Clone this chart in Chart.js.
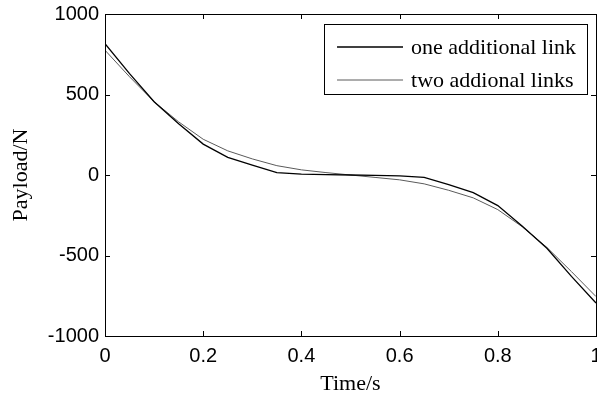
<!DOCTYPE html>
<html>
<head>
<meta charset="utf-8">
<script src="https://cdn.jsdelivr.net/npm/chart.js@4.4.1/dist/chart.umd.min.js"></script>
<style>
    html, body { margin: 0; padding: 0; background: #fff; }
    #frame { width: 597px; height: 399px; overflow: hidden; }
    #holder { width: 620px; height: 399px; }
</style>
</head>
<body>
<div id="frame"><div id="holder"><canvas id="payloadChart"></canvas></div></div>
<script>
// time samples (s)
const timeValues = [0, 0.05, 0.1, 0.15, 0.2, 0.25, 0.3, 0.35, 0.4, 0.45, 0.5,
    0.55, 0.6, 0.65, 0.7, 0.75, 0.8, 0.85, 0.9, 0.95, 1.0];
// payload (N)
const oneLinkValues = [815, 630, 455, 318, 192, 110, 62, 15, 5, 2, 0,
    -2, -5, -15, -60, -110, -190, -318, -455, -630, -795];
const twoLinksValues = [775, 610, 455, 330, 222, 150, 100, 58, 32, 15, 0,
    -15, -30, -55, -95, -142, -215, -322, -450, -600, -755];
const seriesLabels = ['one additional link', 'two addional links'];
const yTicks = [-1000, -500, 0, 500, 1000];
const xTicks = [0, 0.2, 0.4, 0.6, 0.8, 1];

window.addEventListener('load', initialize);

function toPoints(xs, ys) {
    return xs.map((x, i) => ({ x: x, y: ys[i] }));
}

// box around the plot, inward ticks on all four sides, and the legend
const matlabFrame = {
    id: 'matlabFrame',
    afterDatasetsDraw(chart) {
        const ctx = chart.ctx;
        const area = chart.chartArea;
        const xs = chart.scales.x;
        const ys = chart.scales.y;
        const len = 5;

        ctx.save();
        ctx.strokeStyle = '#000';
        ctx.lineWidth = 1;
        ctx.strokeRect(area.left + 0.5, area.top + 0.5, area.right - area.left, area.bottom - area.top);

        ctx.beginPath();
        for (const v of xTicks) {
            const px = Math.round(xs.getPixelForValue(v)) + 0.5;
            ctx.moveTo(px, area.bottom);
            ctx.lineTo(px, area.bottom - len);
            ctx.moveTo(px, area.top);
            ctx.lineTo(px, area.top + len);
        }
        for (const v of yTicks) {
            const py = Math.round(ys.getPixelForValue(v)) + 0.5;
            ctx.moveTo(area.left, py);
            ctx.lineTo(area.left + len, py);
            ctx.moveTo(area.right, py);
            ctx.lineTo(area.right - len, py);
        }
        ctx.stroke();

        // legend
        ctx.font = '22px "Liberation Serif", "Times New Roman", serif';
        let textWidth = 0;
        for (const label of seriesLabels) {
            textWidth = Math.max(textWidth, ctx.measureText(label).width);
        }
        const boxW = 13 + 66 + 8 + textWidth + 11;
        const boxH = 70;
        const boxRight = area.right - 9;
        const boxLeft = boxRight - boxW;
        const boxTop = area.top + 10;
        ctx.fillStyle = '#fff';
        ctx.fillRect(boxLeft, boxTop, boxW, boxH);
        ctx.strokeStyle = '#000';
        ctx.lineWidth = 1;
        ctx.strokeRect(Math.round(boxLeft) + 0.5, boxTop + 0.5, Math.round(boxW), boxH);

        chart.data.datasets.forEach((ds, i) => {
            const cy = boxTop + 23 + i * 33;
            ctx.strokeStyle = ds.borderColor;
            ctx.lineWidth = ds.borderWidth;
            ctx.beginPath();
            ctx.moveTo(boxLeft + 13, cy);
            ctx.lineTo(boxLeft + 79, cy);
            ctx.stroke();
            ctx.fillStyle = '#000';
            ctx.textBaseline = 'middle';
            ctx.textAlign = 'left';
            ctx.fillText(ds.label, boxLeft + 87, cy + 1);
        });
        ctx.restore();
    }
};

function initialize() {
    const ctx = document.getElementById('payloadChart').getContext('2d');
    const tickFont = { family: '"Liberation Sans", Arial, sans-serif', size: 20 };
    const yTickFont = { family: '"Liberation Sans", Arial, sans-serif', size: 20, lineHeight: 0.6 };
    const titleFont = { family: '"Liberation Serif", "Times New Roman", serif', size: 22 };

    new Chart(ctx, {
        type: 'line',
        data: {
            datasets: [{
                label: seriesLabels[0],
                data: toPoints(timeValues, oneLinkValues),
                borderColor: '#000000',
                borderWidth: 1.3,
                pointRadius: 0,
                tension: 0
            }, {
                label: seriesLabels[1],
                data: toPoints(timeValues, twoLinksValues),
                borderColor: '#5a5a5a',
                borderWidth: 1,
                pointRadius: 0,
                tension: 0
            }]
        },
        options: {
            responsive: true,
            maintainAspectRatio: false,
            animation: false,
            layout: { padding: { top: 14, right: 24, bottom: 0, left: 0 } },
            plugins: {
                legend: { display: false },
                tooltip: { enabled: false }
            },
            scales: {
                x: {
                    type: 'linear',
                    min: 0,
                    max: 1,
                    afterBuildTicks: scale => { scale.ticks = xTicks.map(v => ({ value: v })); },
                    afterFit: scale => { scale.height = 63; },
                    grid: { drawOnChartArea: false, drawTicks: false },
                    border: { display: false },
                    ticks: { color: '#000', font: tickFont, padding: 8, maxRotation: 0,
                        callback: value => String(value) },
                    title: { display: true, text: 'Time/s', color: '#000', font: titleFont, padding: { top: 0, bottom: 2 } }
                },
                y: {
                    min: -1000,
                    max: 1000,
                    afterBuildTicks: scale => { scale.ticks = yTicks.map(v => ({ value: v })); },
                    afterFit: scale => { scale.width = 105; },
                    grid: { drawOnChartArea: false, drawTicks: false },
                    border: { display: false },
                    ticks: { color: '#000', font: yTickFont, padding: 6,
                        callback: value => String(value) },
                    title: { display: true, text: 'Payload/N', color: '#000', font: titleFont, padding: { top: 8, bottom: 0 } }
                }
            }
        },
        plugins: [matlabFrame]
    });
}
</script>
</body>
</html>
